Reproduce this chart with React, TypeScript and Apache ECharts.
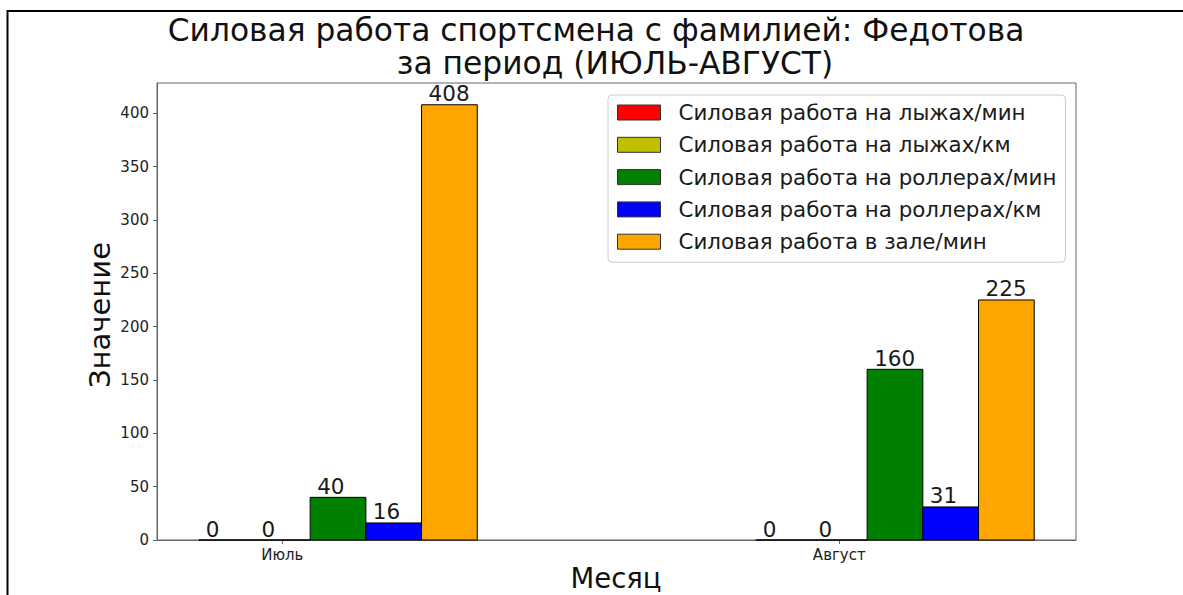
import React, { useEffect, useRef } from "react";
import * as echarts from "echarts";

const months = ["Июль", "Август"];
const seriesNames = [
  "Силовая работа на лыжах/мин",
  "Силовая работа на лыжах/км",
  "Силовая работа на роллерах/мин",
  "Силовая работа на роллерах/км",
  "Силовая работа в зале/мин",
];
const skiMin = [0, 0];
const skiKm = [0, 0];
const rollerMin = [40, 160];
const rollerKm = [16, 31];
const gymMin = [408, 225];
const yTicks = [0, 50, 100, 150, 200, 250, 300, 350, 400];
const xTicks = [0, 1];

const colors = ["#ff0000", "#bfbf00", "#008000", "#0000ff", "#ffa500"];
const FONT = "DejaVu Sans";
const BAR_W = 0.1;

export default function App() {
  const ref = useRef<HTMLDivElement>(null);
  useEffect(() => {
    if (!ref.current) return;
    const chart = echarts.init(ref.current, null, { renderer: "svg" });
    const all = [skiMin, skiKm, rollerMin, rollerKm, gymMin];
    const series = all.map((vals, s) => ({
      type: "custom",
      name: seriesNames[s],
      itemStyle: { color: colors[s], borderColor: "#000", borderWidth: 1 },
      data: vals.map((v, i) => [i, v]),
      renderItem: (params: any, api: any) => {
        const x = api.value(0);
        const v = api.value(1);
        const off = (s - 1) * BAR_W;
        const tl = api.coord([x + off - BAR_W / 2, v]);
        const br = api.coord([x + off + BAR_W / 2, 0]);
        return {
          type: "group",
          children: [
            {
              type: "rect",
              shape: { x: tl[0], y: tl[1], width: br[0] - tl[0], height: br[1] - tl[1] },
              style: { fill: colors[s], stroke: "#000", lineWidth: 1 },
            },
            {
              type: "text",
              x: tl[0] + 7,
              y: tl[1] - 1,
              style: {
                text: String(v),
                font: `21.5px '${FONT}'`,
                lineHeight: 20,
                fill: "#1a1a1a",
                align: "left",
                verticalAlign: "bottom",
              },
            },
          ],
        };
      },
    }));
    chart.setOption({
      animation: false,
      backgroundColor: "#fff",
      grid: {
        left: 157,
        top: 83,
        right: 107,
        bottom: 55,
        show: true,
        borderColor: "#666",
        borderWidth: 1,
      },
      xAxis: {
        type: "value",
        min: -0.225,
        max: 1.425,
        splitLine: { show: false },
        axisLine: { show: true, onZero: false, lineStyle: { color: "#666" } },
        axisTick: { show: true, customValues: xTicks, length: 4, lineStyle: { color: "#666" } },
        axisLabel: {
          customValues: xTicks,
          formatter: (v: number) => months[Math.round(v)] ?? "",
          fontFamily: FONT,
          fontSize: 15,
          color: "#222",
          margin: 7,
        },
      },
      yAxis: {
        type: "value",
        min: 0,
        max: 428.4,
        splitLine: { show: false },
        axisLine: { show: true, onZero: false, lineStyle: { color: "#666" } },
        axisTick: { show: true, customValues: yTicks, length: 4, lineStyle: { color: "#666" } },
        axisLabel: {
          customValues: yTicks,
          fontFamily: FONT,
          fontSize: 15,
          color: "#222",
          margin: 8,
        },
      },
      legend: {
        orient: "vertical",
        left: 608,
        top: 95,
        icon: "rect",
        itemWidth: 43,
        itemHeight: 15,
        itemGap: 11.3,
        padding: [7, 9, 10, 9],
        backgroundColor: "#fff",
        borderColor: "#ccc",
        borderWidth: 1,
        borderRadius: 4,
        itemStyle: { borderColor: "#333", borderWidth: 1 },
        textStyle: {
          fontFamily: FONT,
          fontSize: 21.4,
          color: "#1a1a1a",
          lineHeight: 19,
          padding: [0, 0, 0, 13],
        },
        data: seriesNames,
      },
      graphic: [
        {
          type: "text",
          x: 596,
          y: 30,
          style: {
            text: "Силовая работа спортсмена с фамилией: Федотова",
            font: `31.3px '${FONT}'`,
            fill: "#111",
            align: "center",
            verticalAlign: "middle",
          },
        },
        {
          type: "text",
          x: 615,
          y: 63,
          style: {
            text: "за период (ИЮЛЬ-АВГУСТ)",
            font: `31.3px '${FONT}'`,
            lineHeight: 30,
            fill: "#111",
            align: "center",
            verticalAlign: "middle",
          },
        },
        {
          type: "text",
          x: 100,
          y: 315,
          rotation: Math.PI / 2,
          style: {
            text: "Значение",
            font: `29px '${FONT}'`,
            fill: "#111",
            align: "center",
            verticalAlign: "middle",
          },
        },
        {
          type: "text",
          x: 616,
          y: 578,
          style: {
            text: "Месяц",
            font: `27.5px '${FONT}'`,
            fill: "#111",
            align: "center",
            verticalAlign: "middle",
          },
        },
        {
          type: "line",
          shape: { x1: 7, y1: 11, x2: 1183, y2: 11 },
          style: { stroke: "#000", lineWidth: 2 },
        },
        {
          type: "line",
          shape: { x1: 7.5, y1: 10, x2: 7.5, y2: 595 },
          style: { stroke: "#000", lineWidth: 2 },
        },
      ],
      series,
    });
    return () => chart.dispose();
  }, []);
  return (
    <div
      ref={ref}
      style={{ position: "fixed", left: 0, top: 0, width: 1183, height: 595 }}
    />
  );
}
